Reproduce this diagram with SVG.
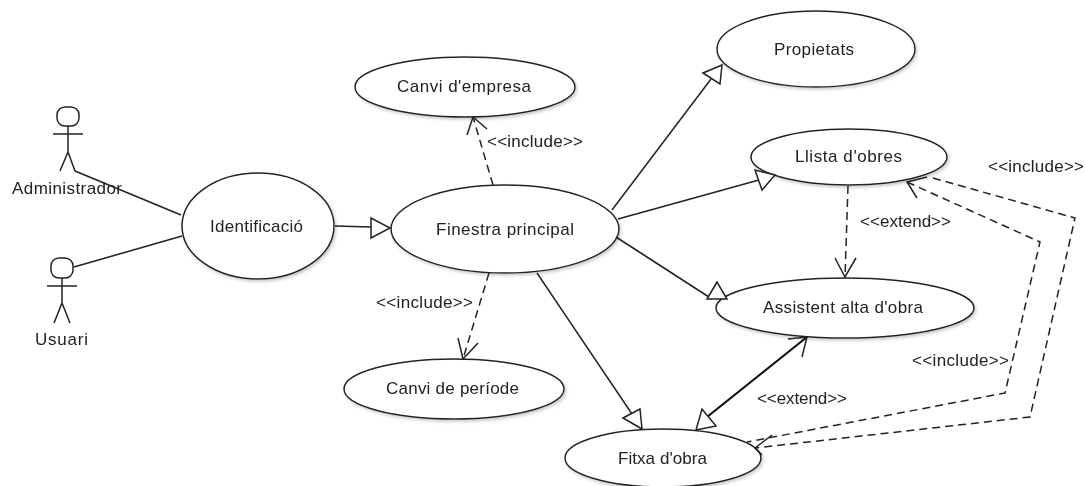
<svg xmlns="http://www.w3.org/2000/svg" width="1085" height="486" viewBox="0 0 1085 486">
<defs>
<filter id="soft" x="-5%" y="-5%" width="110%" height="110%"><feGaussianBlur stdDeviation="0.4"/></filter>
<filter id="shade" x="-10%" y="-15%" width="120%" height="130%"><feDropShadow dx="1.5" dy="2" stdDeviation="1.5" flood-color="#999" flood-opacity="0.5"/></filter>
</defs>
<style>
.n{fill:#fff;stroke:#222;stroke-width:1.5}
.e{filter:url(#shade)}
.l{fill:none;stroke:#222;stroke-width:1.5}
.b{fill:none;stroke:#111;stroke-width:2.2}
.d{fill:none;stroke:#222;stroke-width:1.5;stroke-dasharray:8 5}
.h{fill:#fff;stroke:#222;stroke-width:1.5}
text{font-family:"Liberation Sans",Arial,sans-serif;font-size:17px;fill:#222}
</style>
<rect width="1085" height="486" fill="#fff"/>
<g filter="url(#soft)">
<g id="actor-administrador">
<rect class="n" x="57" y="107" width="22" height="19" rx="8" ry="8"/>
<path class="l" d="M68 126V152M53 134H83M60 171L68 152L75 171"/>
<text x="12" y="194" textLength="110">Administrador</text>
</g>
<g id="actor-usuari">
<rect class="n" x="51" y="258" width="22" height="20" rx="8" ry="8"/>
<path class="l" d="M62 278V303M47 286H77M54 323L62 303L70 323"/>
<text x="35" y="345" textLength="53">Usuari</text>
</g>
<g id="identificacio"><ellipse class="n e" cx="258" cy="226" rx="76" ry="53"/><text x="210" y="232" textLength="93">Identificació</text></g>
<g id="finestra-principal"><ellipse class="n e" cx="505" cy="229" rx="114" ry="44"/><text x="436" y="235" textLength="138">Finestra principal</text></g>
<g id="canvi-empresa"><ellipse class="n e" cx="465" cy="87" rx="110" ry="30"/><text x="397" y="92" textLength="134">Canvi d'empresa</text></g>
<g id="propietats"><ellipse class="n e" cx="816" cy="49" rx="99" ry="38"/><text x="774" y="55" textLength="80">Propietats</text></g>
<g id="llista-obres"><ellipse class="n e" cx="849" cy="157" rx="98" ry="28"/><text x="795" y="162" textLength="107">Llista d'obres</text></g>
<g id="assistent-alta"><ellipse class="n e" cx="845" cy="308" rx="129" ry="30"/><text x="763" y="313" textLength="160">Assistent alta d'obra</text></g>
<g id="canvi-periode"><ellipse class="n e" cx="454" cy="389" rx="110" ry="30"/><text x="386" y="394" textLength="133">Canvi de període</text></g>
<g id="fitxa-obra"><ellipse class="n e" cx="663" cy="458" rx="98" ry="29"/><text x="618" y="464" textLength="89">Fitxa d'obra</text></g>
<g id="connectors">
<path class="l" d="M75 171L181 215M74 267L182 236M335 226L371 227M612 210L711 79M618 219L759 180M616 237L712 299M537 273L632 414"/>
<path class="b" d="M807 337L707 417"/>
<path class="l" d="M788 339L807 337L802 357"/>
<path class="d" d="M493 185L473 117M489 273L463 359M848 186L845 277"/>
<path class="l" d="M467 135L473 117L487 129M458 338L463 359L478 343M835 258L845 277L856 258"/>
<path class="d" d="M907 182L1040 242L1005 393L747 442M933 178L1075 218L1030 417L755 448"/>
<path class="l" d="M917 198L907 182L927 177M772 435L755 448L762 455"/>
<polygon class="h" points="371,218 371,238 390,228"/>
<polygon class="h" points="703,73 720,84 722,65"/>
<polygon class="h" points="755,170 762,190 775,175"/>
<polygon class="h" points="717,282 707,299 727,299"/>
<polygon class="h" points="623,418 640,409 642,429"/>
<polygon class="h" points="696,430 702,409 716,426"/>
</g>
<g id="labels">
<text x="487" y="147" textLength="96">&lt;&lt;include&gt;&gt;</text>
<text x="376" y="308" textLength="97">&lt;&lt;include&gt;&gt;</text>
<text x="988" y="172" textLength="96">&lt;&lt;include&gt;&gt;</text>
<text x="912" y="366" textLength="97">&lt;&lt;include&gt;&gt;</text>
<text x="860" y="227" textLength="91">&lt;&lt;extend&gt;&gt;</text>
<text x="757" y="404" textLength="90">&lt;&lt;extend&gt;&gt;</text>
</g>
</g>
</svg>
